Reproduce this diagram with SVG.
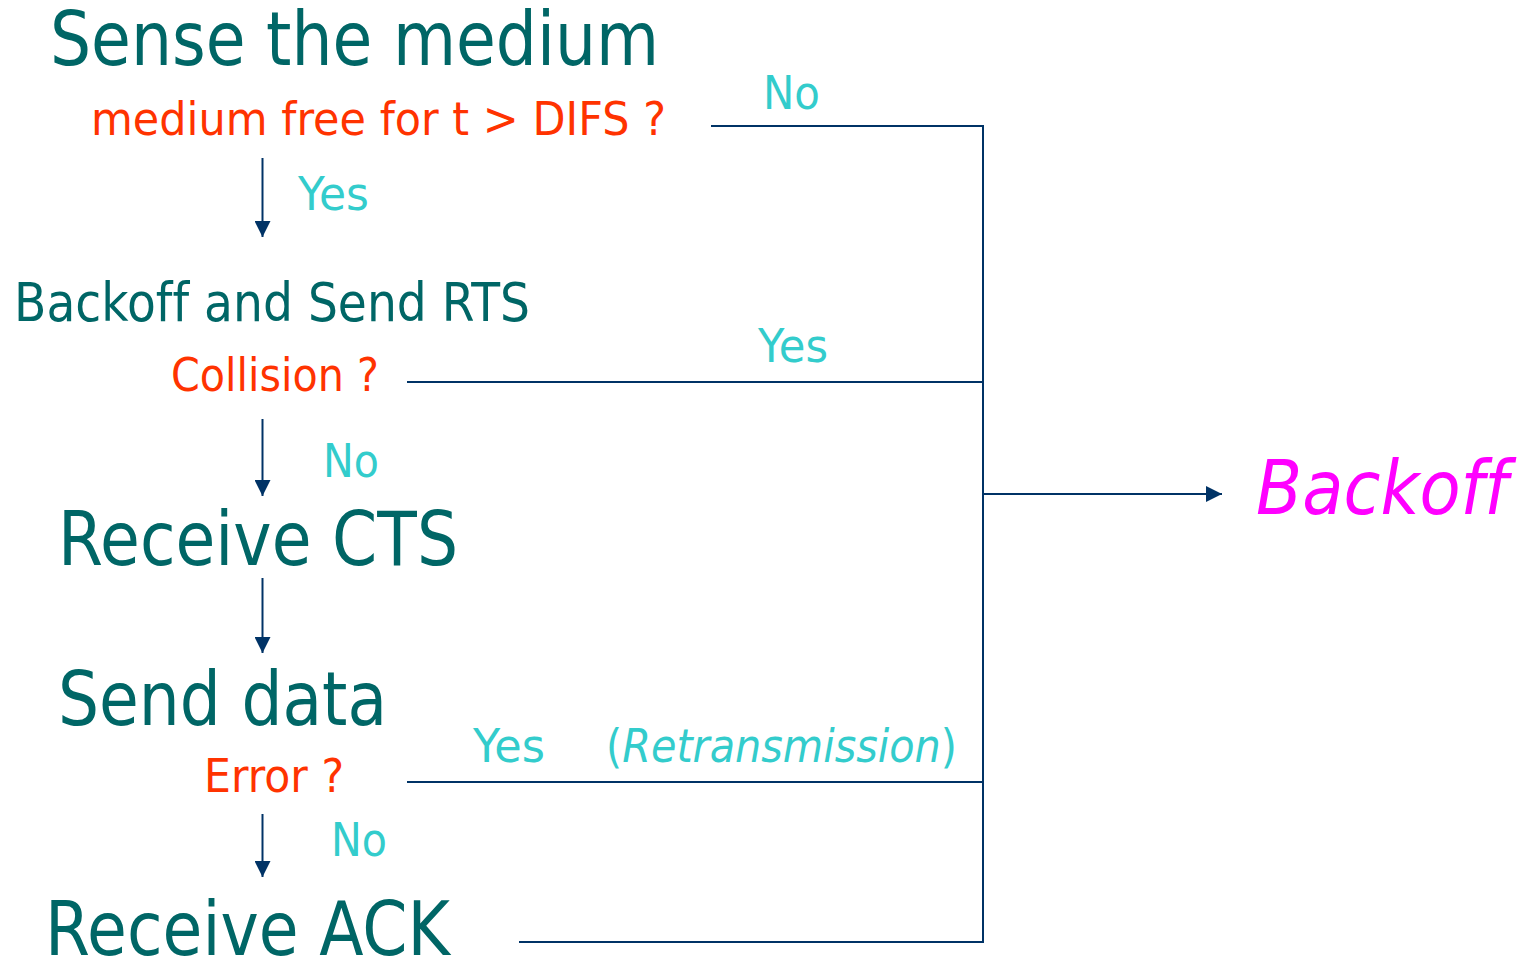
<svg xmlns="http://www.w3.org/2000/svg" width="1523" height="957" viewBox="0 0 1523 957">
<style>
text{font-family:"DejaVu Sans","Liberation Sans",sans-serif;font-variant-ligatures:none;font-feature-settings:"liga" 0}
.big{fill:#006666;font-size:74px}
.mid{fill:#006666;font-size:54px}
.q{fill:#FF3300;font-size:46px}
.lab{fill:#33CCCC;font-size:46px}
.line{stroke:#003366;stroke-width:2;fill:none}
.back{fill:#FF00FF;font-size:74px;font-style:italic}
</style>
<defs>
<marker id="ah" viewBox="0 0 10 10" refX="10" refY="5" markerWidth="16" markerHeight="16" markerUnits="userSpaceOnUse" orient="auto">
<path d="M0,0 L10,5 L0,10 Z" fill="#003366"/>
</marker>
</defs>
<g id="connectors">
<line class="line" x1="262.5" y1="158" x2="262.5" y2="237" marker-end="url(#ah)"/>
<line class="line" x1="262.5" y1="419" x2="262.5" y2="496" marker-end="url(#ah)"/>
<line class="line" x1="262.5" y1="578" x2="262.5" y2="653" marker-end="url(#ah)"/>
<line class="line" x1="262.5" y1="814" x2="262.5" y2="877" marker-end="url(#ah)"/>
<line class="line" x1="711" y1="126" x2="983" y2="126"/>
<line class="line" x1="407" y1="382" x2="983" y2="382"/>
<line class="line" x1="407" y1="782" x2="983" y2="782"/>
<line class="line" x1="519" y1="942" x2="983" y2="942"/>
<line class="line" x1="983" y1="125" x2="983" y2="943"/>
<line class="line" x1="983" y1="494" x2="1222" y2="494" marker-end="url(#ah)"/>
<text class="lab" x="298" y="210" textLength="71" lengthAdjust="spacingAndGlyphs">Yes</text>
<text class="lab" x="763" y="109" textLength="57" lengthAdjust="spacingAndGlyphs">No</text>
<text class="lab" x="758" y="362" textLength="70" lengthAdjust="spacingAndGlyphs">Yes</text>
<text class="lab" x="323" y="477" textLength="56" lengthAdjust="spacingAndGlyphs">No</text>
<text class="lab" x="473" y="762" textLength="72" lengthAdjust="spacingAndGlyphs">Yes</text>
<text class="lab" x="606" y="762" textLength="351" lengthAdjust="spacingAndGlyphs">(<tspan font-style="italic">Retransmission</tspan>)</text>
<text class="lab" x="331" y="856" textLength="56" lengthAdjust="spacingAndGlyphs">No</text>
</g>
<g id="sense">
<text class="big" x="50" y="65" textLength="609" lengthAdjust="spacingAndGlyphs">Sense the medium</text>
<text class="q" x="91" y="135" textLength="575" lengthAdjust="spacingAndGlyphs">medium free for t &gt; DIFS ?</text>
</g>
<g id="rts">
<text class="mid" x="14" y="321" textLength="516" lengthAdjust="spacingAndGlyphs">Backoff and Send RTS</text>
<text class="q" x="171" y="391" textLength="208" lengthAdjust="spacingAndGlyphs">Collision ?</text>
</g>
<g id="cts">
<text class="big" x="58" y="565" textLength="400" lengthAdjust="spacingAndGlyphs">Receive CTS</text>
</g>
<g id="data">
<text class="big" x="58" y="725" textLength="329" lengthAdjust="spacingAndGlyphs">Send data</text>
<text class="q" x="204" y="792" textLength="140" lengthAdjust="spacingAndGlyphs">Error ?</text>
</g>
<g id="ack">
<text class="big" x="45" y="955" textLength="405" lengthAdjust="spacingAndGlyphs">Receive ACK</text>
</g>
<g id="backoff">
<text class="back" x="1256" y="514" textLength="252" lengthAdjust="spacingAndGlyphs">Backoff</text>
</g>
</svg>
